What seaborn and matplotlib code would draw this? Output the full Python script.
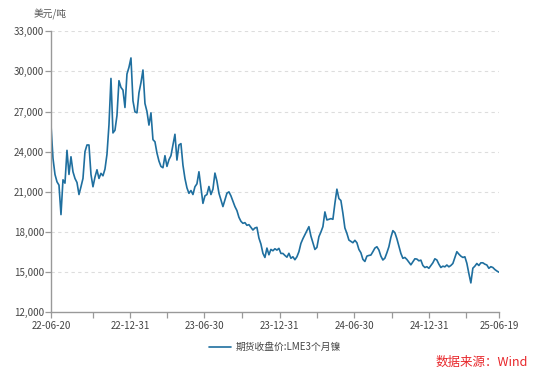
import pandas as pd
import matplotlib.pyplot as plt
import matplotlib.dates as mdates
from matplotlib.ticker import FuncFormatter
import seaborn as sns

# LME 3-month nickel close, USD/t at even spacing
price = [
    26000, 23500, 22300, 21750, 21500, 19300, 21900, 21650, 24100, 22300,
    23620, 22500, 22000, 21700, 20800, 21380, 22000, 24000, 24500, 24500,
    22300, 21380, 22100, 22650, 22000, 22380, 22200, 22700, 23800, 26000,
    29470, 25400, 25600, 26700, 29300, 28800, 28600, 27300, 29800, 30300,
    31000, 27800, 26977, 26900, 28400, 29150, 30100, 27600, 27000, 25985,
    26900, 24900, 24740, 23900, 23300, 22900, 22800, 23700, 22900, 23400,
    23700, 24500, 25300, 23373, 24500, 24600, 23000, 22000, 21300, 20890,
    21100, 20800, 21380, 21600, 22500, 21300, 20140, 20700, 20800, 21400,
    20800, 21200, 22400, 21800, 20900, 20400, 19900, 20400, 20900, 21000,
    20700, 20300, 19900, 19600, 19100, 18800, 18650, 18700, 18500, 18550,
    18350, 18149, 18300, 18350, 17550, 17100, 16410, 16100, 16800, 16300,
    16700, 16600, 16750, 16650, 16780, 16400, 16400, 16250, 16120, 16410,
    16040, 16150, 15930, 16150, 16530, 17150, 17500, 17800, 18100, 18400,
    17700, 17200, 16700, 16850, 17650, 18000, 18400, 19500, 18900, 18950,
    19000, 18950, 20141, 21200, 20500, 20350, 19400, 18300, 17900, 17400,
    17300, 17200, 17380, 17200, 16700, 16450, 15960, 15800, 16200, 16250,
    16280, 16530, 16800, 16900, 16660, 16200, 15910, 16050, 16450, 16900,
    17600, 18100, 17950, 17500, 16950, 16400, 16037, 16100, 15950, 15750,
    15550, 15780, 16000, 15980, 15850, 15900, 15500, 15350, 15410, 15290,
    15500, 15700, 16000, 15910, 15600, 15350, 15450, 15400, 15537, 15400,
    15500, 15650, 16100, 16530, 16350, 16200, 16100, 16150, 15664, 14900,
    14200, 15300, 15450, 15650, 15500, 15700, 15700, 15600, 15537, 15290,
    15410, 15350, 15200, 15090, 15000,
]
start_date = '2022-06-20'
end_date = '2025-06-19'
series_name = '期货收盘价:LME3个月镍'

major_ticks = ['2022-06-20', '2022-12-31', '2023-06-30', '2023-12-31',
               '2024-06-30', '2024-12-31', '2025-06-19']
minor_ticks = ['2022-09-30', '2023-03-31', '2023-09-30', '2024-03-31',
               '2024-09-30', '2025-03-31']
y_ticks = [12000, 15000, 18000, 21000, 24000, 27000, 30000, 33000]

dates = pd.date_range(start_date, end_date, periods=len(price))
df = pd.DataFrame({'date': dates, 'price': price})

sns.set_style('white')
plt.rcParams['font.family'] = ['Noto Sans CJK SC', 'DejaVu Sans']

fig = plt.figure(figsize=(5.5, 3.8), dpi=100)
ax = fig.add_axes([0.0927, 0.178, 0.8143, 0.740])

sns.lineplot(data=df, x='date', y='price', ax=ax, color='#1f6f9f',
             linewidth=1.2, label=series_name, legend=False)

ax.set_xlim(pd.Timestamp(start_date), pd.Timestamp(end_date))
ax.set_ylim(12000, 33000)
ax.set_yticks(y_ticks)
ax.yaxis.set_major_formatter(FuncFormatter(lambda v, p: f'{int(v):,}'))
ax.set_xticks(pd.to_datetime(major_ticks))
ax.set_xticks(pd.to_datetime(minor_ticks), minor=True)
ax.xaxis.set_major_formatter(mdates.DateFormatter('%y-%m-%d'))
ax.set_xlabel('')
ax.set_ylabel('')

for v in y_ticks[1:]:
    ax.axhline(v, color='#dddddd', linestyle=(0, (3, 3)), linewidth=0.8, zorder=0)

for side in ['top', 'right']:
    ax.spines[side].set_visible(False)
for side in ['left', 'bottom']:
    ax.spines[side].set_color('#999999')
    ax.spines[side].set_linewidth(1.0)

ax.tick_params(axis='both', which='both', direction='out', color='#999999',
               length=4, width=0.9, labelsize=7, labelcolor='#444444',
               bottom=True, left=True)
ax.tick_params(axis='x', which='major', pad=2)
ax.tick_params(axis='y', which='major', pad=1)

fig.text(0.091, 0.962, '美元/吨', fontsize=7, color='#555555', ha='center', va='center')

handles, labels = ax.get_legend_handles_labels()
fig.legend(handles, labels, loc='center', bbox_to_anchor=(0.5, 0.087),
           frameon=False, fontsize=7, handlelength=2.2, handletextpad=0.5,
           labelcolor='#444444')

fig.text(0.875, 0.047, '数据来源：Wind', fontsize=9, color='#e8262a',
         ha='center', va='center')

fig.savefig('out.png', dpi=100)
